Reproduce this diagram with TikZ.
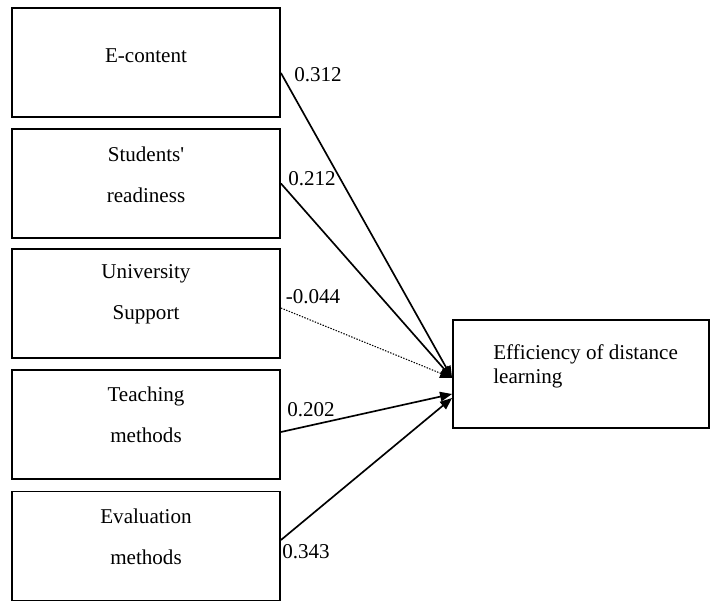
\documentclass[tikz,border=0pt]{standalone}
\usepackage{fontspec}
\setmainfont{Liberation Serif}
\usetikzlibrary{positioning, arrows.meta}

\begin{document}
\begin{tikzpicture}[x = 0.02cm, y = -0.02cm]

\tikzset{
factor/.style = {rectangle, draw, line width = 1.1pt, inner sep = 0pt, 
	minimum width = 5.36cm, minimum height = 2.18cm},
outcome/.style = {rectangle, draw, line width = 1.1pt, inner sep = 0pt, 
	minimum width = 5.12cm, minimum height = 2.16cm},
caption/.style = {align = center, inner sep = 0pt, 
	font = \fontsize{12}{23.3}\selectfont},
coef/.style = {inner sep = 0pt, font = \fontsize{12}{14}\selectfont},
regression/.style = {-{Triangle[length = 2.4mm, width = 1.9mm]}, line width = 0.95pt},
	}

\useasboundingbox (0,0) rectangle (710,601);

%% Predictors
\node at (146,62.5) [factor] (EC) {};
\node at (146,183.5) [factor] (SR) {};
\node at (146,303.5) [factor] (US) {};
\node at (146,424.5) [factor] (TM) {};
\node at (146,546) [factor] (EM) {};

\node at (146,56) [caption] (EC-text) {E-content};
\node at (146,175) [caption] (SR-text) {Students\textquotesingle\\readiness};
\node at (146,294) [caption] (US-text) {University\\Support};
\node at (146,415) [caption] (TM-text) {Teaching\\methods};
\node at (146,537) [caption] (EM-text) {Evaluation\\methods};

%% Outcome
\node at (581,374) [outcome] (EDL) {};
\node at (493,366) [caption, anchor = west, align = left, 
	font = \fontsize{12}{13.7}\selectfont] (EDL-text) {Efficiency of distance\\learning};

% The regressions
\draw [regression] ([yshift = -2.1mm]EC.east) -- ([yshift = -0.8mm]EDL.west);
\draw [regression] (SR.east) -- ([yshift = -0.8mm]EDL.west);
\draw [regression, line width = 0.6pt, dash pattern = on 0.8pt off 0.8pt] 
	([yshift = -0.9mm]US.east) -- ([yshift = -0.8mm]EDL.west);
\draw [regression] ([yshift = -1.5mm]TM.east) -- ([yshift = -4mm]EDL.west);
\draw [regression] ([yshift = 1.2mm]EM.east) -- ([yshift = -4.8mm]EDL.west);

% Coefficients
\node at (318,75) [coef] (b-EC) {0.312};
\node at (312,179) [coef] (b-SR) {0.212};
\node at (313,297) [coef] (b-US) {-0.044};
\node at (311,410) [coef] (b-TM) {0.202};
\node at (306,552) [coef] (b-EM) {0.343};

\end{tikzpicture}
\end{document}
